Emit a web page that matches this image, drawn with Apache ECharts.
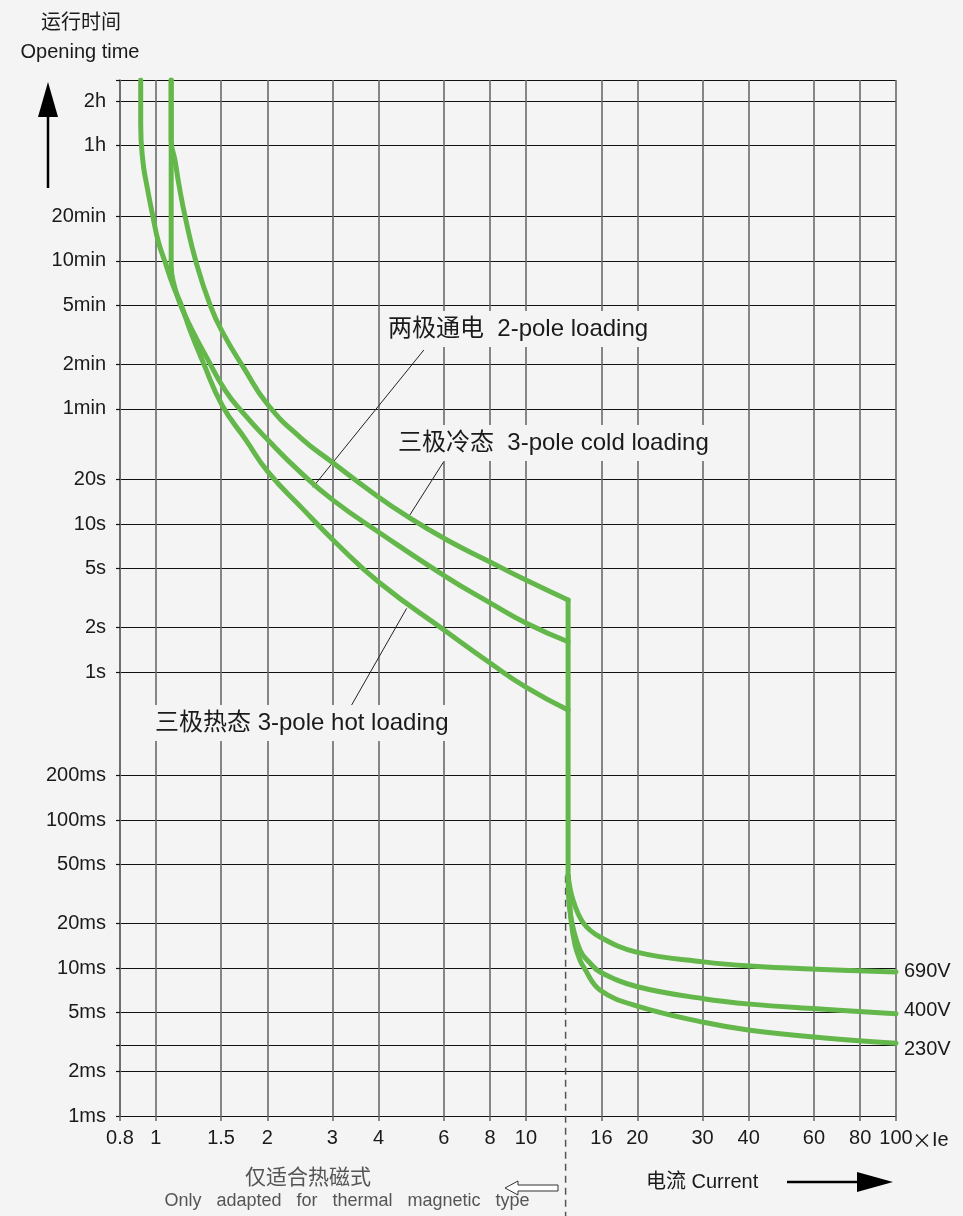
<!DOCTYPE html>
<html>
<head>
<meta charset="utf-8">
<title>运行时间 / Opening time</title>
<script src="https://cdn.jsdelivr.net/npm/echarts@6/dist/echarts.min.js"></script>
<style>
html, body { margin: 0; padding: 0; background: #f4f4f4; }
#chart { width: 963px; height: 1216px; }
</style>
</head>
<body>
<div id="chart"></div>
<script>
// x: current (multiples of Ie), y: opening time in seconds
const xTicks = [0.8, 1, 1.5, 2, 3, 4, 6, 8, 10, 16, 20, 30, 40, 60, 80, 100];
const yGridValues = [10000, 7200, 3600, 1200, 600, 300, 120, 60, 20, 10, 5, 2, 1, 0.2, 0.1, 0.05, 0.02, 0.01, 0.005, 0.003, 0.002, 0.001];
const yLabelValues = [7200, 3600, 1200, 600, 300, 120, 60, 20, 10, 5, 2, 1, 0.2, 0.1, 0.05, 0.02, 0.01, 0.005, 0.002, 0.001];
const yLabelTexts = ['2h', '1h', '20min', '10min', '5min', '2min', '1min', '20s', '10s', '5s', '2s', '1s',
  '200ms', '100ms', '50ms', '20ms', '10ms', '5ms', '2ms', '1ms'];

// 三极冷态 (top thermal curve)
const coldLoading = [
  [1.1, 10000], [1.1, 3930], [1.126, 2880], [1.155, 1950], [1.2, 1190], [1.284, 589], [1.405, 297],
  [1.519, 195], [1.73, 113], [2.01, 63.7], [2.467, 38.1], [2.99, 26.2], [3.86, 16.2], [4.77, 11.3],
  [6.12, 7.8], [8, 5.54], [10, 4.18], [13, 3.07]
];
// 两极通电 (middle thermal curve)
const twoPoleLoading = [
  [1.1, 10000], [1.1, 560], [1.126, 393], [1.169, 297], [1.252, 205], [1.375, 132], [1.538, 80.4],
  [1.73, 55.4], [2.009, 36.9], [2.452, 22.5], [3.01, 14.5], [4.03, 8.7], [6.1, 4.38], [8, 2.93],
  [10, 2.14], [13, 1.6]
];
// 三极热态 (bottom thermal curve)
const hotLoading = [
  [0.91, 10000], [0.91, 5000], [0.923, 2790], [0.945, 1950], [0.982, 1190], [1.016, 804],
  [1.059, 589], [1.112, 412], [1.174, 297], [1.236, 205], [1.345, 122], [1.509, 63.7], [1.752, 36.9],
  [2.009, 22.5], [2.498, 12.6], [3.05, 7.56], [4.03, 3.99], [6.1, 1.87], [8, 1.15], [10, 0.79], [13, 0.553]
];
// instantaneous release drop
const instantDrop = [[13, 3.07], [13, 0.042]];
// magnetic trip curves
const magnetic690 = [[13, 0.042], [13.4, 0.0288], [14.3, 0.0201], [15.85, 0.0162], [19.9, 0.0128],
  [30.2, 0.011], [40.3, 0.0103], [61, 0.0098], [100, 0.0094]];
const magnetic400 = [[13, 0.042], [13.2, 0.0228], [14, 0.0132], [14.9, 0.0108], [15.85, 0.0094],
  [19.9, 0.0075], [30.2, 0.0062], [40.3, 0.0057], [61, 0.0053], [100, 0.0049]];
const magnetic230 = [[13, 0.042], [13.24, 0.0211], [13.57, 0.0143], [14, 0.0113], [14.3, 0.0102],
  [15.85, 0.0071], [20.1, 0.0055], [30.2, 0.0043], [40.3, 0.0038], [61, 0.0034], [100, 0.0031]];
// dashed boundary (runs below the axis)
const limitLine = [[12.8, 0.042], [12.8, 0.00005]];
// pointer lines from the notes to the curves
const pointers = [
  [[5.3, 150], [2.654, 17.7]],
  [[5.98, 26.1], [4.79, 10.9]],
  [[3.38, 0.598], [4.76, 2.69]]
];

const GREEN = '#64b74a';
const FONT = '"Liberation Sans", Arial, "Noto Sans CJK SC", sans-serif';
const CJK = '"Noto Sans CJK SC", sans-serif';
const BG = '#f4f4f4';
const INK = '#1a1a1a';

const chart = echarts.init(document.getElementById('chart'));

function timeLabel(v) {
  const lv = Math.log10(v);
  const i = yLabelValues.findIndex((t) => Math.abs(Math.log10(t) - lv) < 0.01);
  return i >= 0 ? yLabelTexts[i] : '';
}

function curve(name, data, extra) {
  return Object.assign({
    name: name,
    type: 'line',
    data: data,
    symbol: 'none',
    smooth: 0.5,
    z: 5,
    lineStyle: { color: GREEN, width: 5, cap: 'round', join: 'round' }
  }, extra || {});
}

function endLabel(text, offset) {
  return {
    show: true,
    formatter: text,
    distance: 8,
    offset: offset || [0, 0],
    fontSize: 20,
    fontFamily: FONT,
    color: INK
  };
}

const series = [
  curve('三极冷态', coldLoading),
  curve('两极通电', twoPoleLoading),
  curve('三极热态', hotLoading),
  curve('瞬动', instantDrop, { smooth: false }),
  curve('690V', magnetic690, { smooth: 0.4, endLabel: endLabel('690V') }),
  curve('400V', magnetic400, { smooth: 0.4, endLabel: endLabel('400V', [0, -3]) }),
  curve('230V', magnetic230, { smooth: 0.4, endLabel: endLabel('230V', [0, 6]) }),
  {
    name: 'limit',
    type: 'line',
    data: limitLine,
    symbol: 'none',
    clip: false,
    z: 3,
    lineStyle: { color: '#555', width: 1.5, type: [7, 5] }
  }
];
pointers.forEach((p, i) => {
  series.push({
    name: 'pointer' + i,
    type: 'line',
    data: p,
    symbol: 'none',
    z: 4,
    lineStyle: { color: '#222', width: 1 }
  });
});

// note text with an opaque box that hides the grid behind it
function note(text, x, y) {
  return {
    type: 'text',
    z: 100,
    style: {
      text: text, x: x, y: y,
      font: '24px ' + FONT,
      fill: INK,
      textAlign: 'left',
      textVerticalAlign: 'middle',
      backgroundColor: BG,
      padding: [6, 4, 6, 4]
    }
  };
}

function plainText(text, x, y, font, color, align) {
  return {
    type: 'text',
    z: 100,
    style: {
      text: text, x: x, y: y,
      font: font,
      fill: color || INK,
      textAlign: align || 'left',
      textVerticalAlign: 'middle'
    }
  };
}

const option = {
  backgroundColor: BG,
  animation: false,
  grid: { left: 120, right: 67, top: 80, bottom: 100, containLabel: false, outerBoundsMode: 'none' },
  xAxis: {
    type: 'log',
    logBase: 10,
    min: 0.8,
    max: 100,
    axisLine: { show: true, lineStyle: { color: '#111', width: 1.2 } },
    axisTick: { show: true, length: 5, customValues: xTicks, lineStyle: { color: '#666', width: 1.5 } },
    axisLabel: {
      customValues: xTicks,
      margin: 12,
      fontSize: 20,
      fontFamily: FONT,
      color: INK,
      formatter: (v) => String(Number(Number(v).toPrecision(6)))
    },
    splitLine: { show: true, lineStyle: { color: '#6a6a6a', width: 1.6 } },
    minorTick: { show: false },
    minorSplitLine: { show: false }
  },
  yAxis: {
    type: 'log',
    logBase: 10,
    min: 0.001,
    max: 10000,
    axisLine: { show: true, lineStyle: { color: '#6a6a6a', width: 1.6 } },
    axisTick: { show: true, length: 4, customValues: yGridValues, lineStyle: { color: '#111', width: 1.2 } },
    axisLabel: {
      customValues: yLabelValues,
      margin: 14,
      fontSize: 20,
      fontFamily: FONT,
      color: INK,
      formatter: timeLabel
    },
    splitLine: { show: true, lineStyle: { color: '#111', width: 1.2 } },
    minorTick: { show: false },
    minorSplitLine: { show: false }
  },
  series: series,
  graphic: [
    plainText('运行时间', 81, 21, '20px ' + CJK, INK, 'center'),
    plainText('Opening time', 80, 52, '20px ' + FONT, INK, 'center'),
    { type: 'line', z: 100, shape: { x1: 48, y1: 188, x2: 48, y2: 112 }, style: { stroke: '#000', lineWidth: 2.5 } },
    { type: 'polygon', z: 100, shape: { points: [[38, 117], [48, 82], [58, 117]] }, style: { fill: '#000' } },
    {
      type: 'text', z: 100,
      style: {
        text: '{x|×}{e|Ie}', x: 912, y: 1140, textAlign: 'left', textVerticalAlign: 'middle',
        rich: {
          x: { fontSize: 20, fontFamily: CJK, fill: INK, color: INK },
          e: { fontSize: 20, fontFamily: FONT, fill: INK, color: INK }
        }
      }
    },
    plainText('仅适合热磁式', 308, 1176, '21px ' + CJK, '#555', 'center'),
    plainText('Only   adapted   for   thermal   magnetic   type', 347, 1201, '18px ' + FONT, '#555', 'center'),
    {
      type: 'polygon', z: 100,
      shape: { points: [[505, 1188], [518, 1181], [518, 1185], [558, 1185], [558, 1191], [518, 1191], [518, 1195]] },
      style: { fill: '#fff', stroke: '#333', lineWidth: 1 }
    },
    plainText('电流 Current', 646, 1182, '20px ' + FONT, INK, 'left'),
    { type: 'line', z: 100, shape: { x1: 787, y1: 1182, x2: 860, y2: 1182 }, style: { stroke: '#000', lineWidth: 2.5 } },
    { type: 'polygon', z: 100, shape: { points: [[857, 1172], [893, 1182], [857, 1192]] }, style: { fill: '#000' } },
    note('两极通电  2-pole loading', 384, 329),
    note('三极冷态  3-pole cold loading', 394, 443),
    note('三极热态 3-pole hot loading', 151, 723)
  ]
};

chart.setOption(option);
window.addEventListener('resize', () => chart.resize());
</script>
</body>
</html>
